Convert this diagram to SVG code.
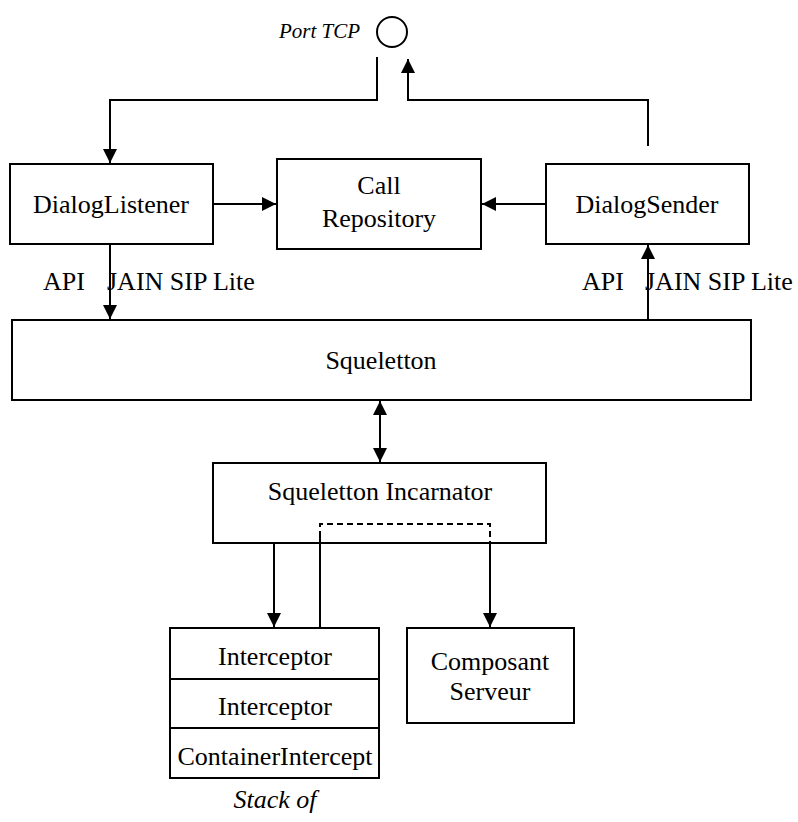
<svg xmlns="http://www.w3.org/2000/svg" width="798" height="822" viewBox="0 0 798 822">
<style>
.box{fill:#fff;stroke:#000;stroke-width:2}
.t{font-family:"Liberation Serif","Times New Roman",serif;font-size:26px;fill:#000;text-anchor:middle}
.lbl{font-family:"Liberation Serif","Times New Roman",serif;font-size:26px;fill:#000}
.it{font-family:"Liberation Serif","Times New Roman",serif;font-style:italic;fill:#000}
.ln{fill:none;stroke:#000;stroke-width:2}
.dash{fill:none;stroke:#000;stroke-width:2;stroke-dasharray:6,4}
</style>
<defs>
<marker id="ah" viewBox="0 0 10 10" refX="10" refY="5" markerUnits="userSpaceOnUse" markerWidth="15" markerHeight="14" orient="auto-start-reverse">
<path d="M0,0 L10,5 L0,10 z" fill="#000"/>
</marker>
</defs>
<rect width="798" height="822" fill="#fff"/>
<g id="port">
<circle cx="392" cy="32" r="15" fill="none" stroke="#000" stroke-width="2"/>
<text class="it" x="360" y="38" font-size="21" text-anchor="end">Port TCP</text>
</g>
<g id="dialogListener">
<rect class="box" x="10" y="164" width="203" height="80"/>
<text class="t" x="111" y="213">DialogListener</text>
</g>
<g id="callRepository">
<rect class="box" x="277" y="159" width="204" height="90"/>
<text class="t" x="379" y="194">Call</text>
<text class="t" x="379" y="227">Repository</text>
</g>
<g id="dialogSender">
<rect class="box" x="546" y="164" width="203" height="80"/>
<text class="t" x="647" y="213">DialogSender</text>
</g>
<g id="squeletton">
<rect class="box" x="12" y="320" width="739" height="80"/>
<text class="t" x="381" y="369">Squeletton</text>
</g>
<g id="incarnator">
<rect class="box" x="213" y="463" width="333" height="80"/>
<text class="t" x="380" y="500">Squeletton Incarnator</text>
</g>
<g id="interceptorStack">
<rect class="box" x="170" y="628" width="209" height="150"/>
<line class="ln" x1="170" y1="679" x2="379" y2="679"/>
<line class="ln" x1="170" y1="728" x2="379" y2="728"/>
<text class="t" x="275" y="665">Interceptor</text>
<text class="t" x="275" y="715">Interceptor</text>
<text class="t" x="275" y="765">ContainerIntercept</text>
<text class="it" x="275" y="808" font-size="26" text-anchor="middle">Stack of</text>
</g>
<g id="composant">
<rect class="box" x="407" y="628" width="167" height="95"/>
<text class="t" x="490" y="670">Composant</text>
<text class="t" x="490" y="700">Serveur</text>
</g>
<g id="labels">
<text class="lbl" x="43" y="290">API</text>
<text class="lbl" x="107" y="290">JAIN SIP Lite</text>
<text class="lbl" x="582" y="290">API</text>
<text class="lbl" x="645" y="290">JAIN SIP Lite</text>
</g>
<g id="connectors">
<polyline class="ln" points="377,57 377,100 110,100 110,163" marker-end="url(#ah)"/>
<polyline class="ln" points="648,146 648,100 408,100 408,59" marker-end="url(#ah)"/>
<line class="ln" x1="213" y1="204" x2="276" y2="204" marker-end="url(#ah)"/>
<line class="ln" x1="546" y1="204" x2="482" y2="204" marker-end="url(#ah)"/>
<line class="ln" x1="110" y1="244" x2="110" y2="319" marker-end="url(#ah)"/>
<line class="ln" x1="648" y1="320" x2="648" y2="245" marker-end="url(#ah)"/>
<line class="ln" x1="380" y1="401" x2="380" y2="462" marker-start="url(#ah)" marker-end="url(#ah)"/>
<line class="ln" x1="274" y1="543" x2="274" y2="627" marker-end="url(#ah)"/>
<line class="ln" x1="320" y1="628" x2="320" y2="537"/>
<polyline class="dash" points="320,537 320,524 490,524 490,543"/>
<line class="ln" x1="490" y1="543" x2="490" y2="627" marker-end="url(#ah)"/>
</g>
</svg>
